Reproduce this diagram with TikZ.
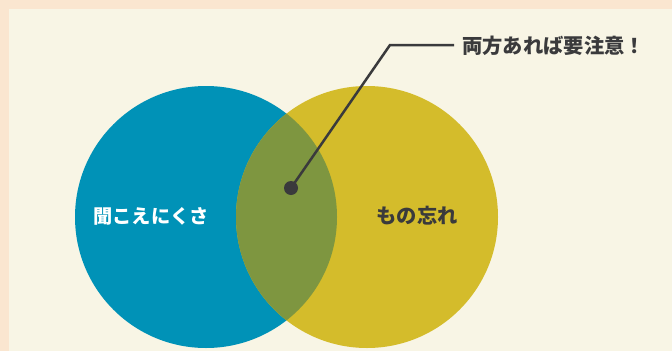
\documentclass[tikz,border=0pt]{standalone}
\usepackage{fontspec}
\newfontfamily\jp{Noto Sans CJK JP}
\definecolor{peach}{HTML}{FAE6D0}
\definecolor{cream}{HTML}{F8F5E5}
\definecolor{vblue}{HTML}{0092B7}
\definecolor{vyellow}{HTML}{D4BC2B}
\definecolor{volive}{HTML}{7E9640}
\definecolor{dark}{HTML}{3A3A3C}
\tikzset{
  venn/.style={circle, minimum size=262pt, inner sep=0pt},
  lbl/.style={font=\jp\bfseries\fontsize{20.3}{24}\selectfont, inner sep=0pt},
  lbls/.style={font=\jp\bfseries\fontsize{19.2}{23}\selectfont, inner sep=0pt},
  leader/.style={draw=dark, line width=2.5pt},
}
\begin{document}
\begin{tikzpicture}[x=1pt,y=-1pt]
\useasboundingbox (0,0) rectangle (672,351);
\fill[peach] (0,0) rectangle (672,351);
\fill[cream] (9,9) rectangle (672,351);
\node[venn, fill=vblue] (L) at (206,217) {};
\node[venn, fill=vyellow] (R) at (367,217) {};
\begin{scope}
  \clip (206,217) circle (131pt);
  \fill[volive] (367,217) circle (131pt);
\end{scope}
\node[lbls, text=white] (hear) at (151,216) {聞こえにくさ};
\node[lbl, text=dark] (forget) at (417,216) {もの忘れ};
\node[lbl, text=dark, anchor=west] (note) at (462,46) {両方あれば要注意！};
\node[circle, fill=dark, minimum size=14pt, inner sep=0pt] (dot) at (291,188) {};
\coordinate (knee) at (390,45);
\coordinate (tail) at (454,45);
\draw[leader] (dot.center) -- (knee) -- (tail);
\end{tikzpicture}
\end{document}
